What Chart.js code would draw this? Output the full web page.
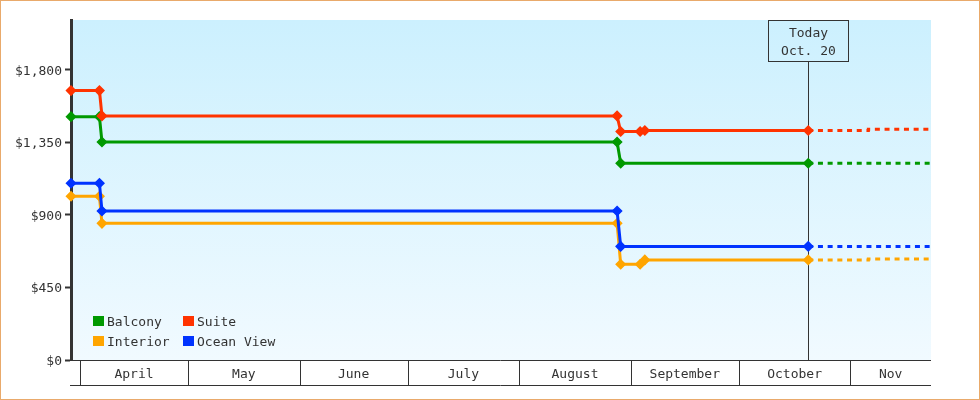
<!DOCTYPE html>
<html><head><meta charset="utf-8">
<script src="https://cdn.jsdelivr.net/npm/chart.js@4.4.0/dist/chart.umd.min.js"></script>
<style>html,body{margin:0;padding:0;background:#fff;overflow:hidden;} canvas{display:block;}</style>
</head><body>
<canvas id="c" width="980" height="400"></canvas>
<script>
// ---- data (x = days since April 1) ----
const seriesNames = ['Balcony', 'Suite', 'Interior', 'Ocean View'];
const seriesColors = ['#009900', '#ff3300', '#ffa500', '#0033ff'];
const balconyDays   = [-2.5, 5.4, 6.1, 149.2, 150.2, 202.3, 236.4];
const balconyPrices = [1510, 1510, 1353, 1353, 1221, 1221, 1221];
const suiteDays     = [-2.5, 5.4, 6.1, 149.2, 150.2, 155.6, 156.9, 202.3, 218.9, 219.0, 236.4];
const suitePrices   = [1672, 1672, 1515, 1515, 1418, 1418, 1424, 1424, 1424, 1432, 1432];
const interiorDays  = [-2.5, 5.4, 6.1, 149.2, 150.2, 155.6, 156.9, 202.3, 218.9, 219.0, 236.4];
const interiorPrices= [1016, 1016, 848, 848, 594, 594, 621, 621, 621, 627, 627];
const oceanDays     = [-2.5, 5.4, 6.1, 149.2, 150.2, 202.3, 236.4];
const oceanPrices   = [1097, 1097, 925, 925, 705, 705, 705];
const monthNames     = ['April', 'May', 'June', 'July', 'August', 'September', 'October', 'Nov'];
const monthStartDays = [0, 30, 61, 91, 122, 153, 183, 214];
const yTickValues = [0, 450, 900, 1350, 1800];
const todayDay = 202.3;
const todayLabel = ['Today', 'Oct. 20'];
const xMin = -2.5, xMax = 236.4, yMax = 2110;

const FONT = 'DejaVu Sans Mono';
const TXT = '#333333';
const DY = 1.5;

function pts(days, prices) { return days.map((d, i) => ({ x: d, y: prices[i] })); }
const seriesData = [pts(balconyDays, balconyPrices), pts(suiteDays, suitePrices),
                    pts(interiorDays, interiorPrices), pts(oceanDays, oceanPrices)];
const drawOrder = [3, 1, 2, 0];

const datasets = seriesNames.map((name, i) => ({
  label: name,
  data: seriesData[i],
  borderColor: seriesColors[i],
  backgroundColor: seriesColors[i],
  pointBackgroundColor: seriesColors[i],
  pointBorderColor: seriesColors[i],
  borderWidth: 3,
  pointStyle: 'rectRot',
  pointBorderWidth: 1.5,
  pointRadius: ctx => (ctx.raw && ctx.raw.x <= todayDay + 0.001) ? 4.5 : 0,
  pointHoverRadius: 4.5,
  tension: 0,
  clip: false,
  order: drawOrder[i],
  segment: {
    borderDash: ctx => ctx.p0.parsed.x >= todayDay - 0.001 ? [5, 4.7] : undefined
  }
}));

const decor = {
  id: 'decor',
  beforeDraw(chart) {
    const { ctx, chartArea: a } = chart;
    ctx.save();
    ctx.fillStyle = '#ffffff';
    ctx.fillRect(0, 0, chart.width, chart.height);
    const g = ctx.createLinearGradient(0, a.top, 0, a.bottom);
    g.addColorStop(0, '#ccf0fe');
    g.addColorStop(1, '#f1faff');
    ctx.fillStyle = g;
    ctx.fillRect(a.left, a.top, a.right - a.left, a.bottom - a.top);
    ctx.strokeStyle = '#e9aa6b';
    ctx.lineWidth = 1;
    ctx.strokeRect(0.5, 0.5, chart.width - 1, chart.height - 1);
    ctx.restore();
  },
  beforeDatasetsDraw(chart) {
    const { ctx, chartArea: a, scales: { x } } = chart;
    const tx = Math.round(x.getPixelForValue(todayDay)) + 0.5;
    ctx.save();
    ctx.strokeStyle = TXT;
    ctx.lineWidth = 1;
    const boxTop = a.top + 0.5, boxBottom = a.top + 41.5;
    ctx.beginPath();
    ctx.moveTo(tx, boxBottom);
    ctx.lineTo(tx, a.bottom);
    ctx.stroke();
    ctx.strokeRect(tx - 40, boxTop, 80, boxBottom - boxTop);
    ctx.fillStyle = TXT;
    ctx.font = '13px "' + FONT + '"';
    ctx.textAlign = 'center';
    ctx.textBaseline = 'middle';
    ctx.fillText(todayLabel[0], tx, a.top + 12 + DY);
    ctx.fillText(todayLabel[1], tx, a.top + 30 + DY);
    ctx.restore();
  },
  afterDraw(chart) {
    const { ctx, chartArea: a, scales: { x } } = chart;
    ctx.save();
    ctx.strokeStyle = TXT;
    ctx.lineWidth = 1;
    const y0 = a.bottom + 0.5, y1 = a.bottom + 25.5;
    ctx.beginPath();
    ctx.moveTo(a.left - 1, y0); ctx.lineTo(a.right, y0);
    ctx.moveTo(a.left - 1, y1); ctx.lineTo(a.right, y1);
    monthStartDays.forEach(d => {
      if (d > xMin && d < xMax) {
        const px = Math.round(x.getPixelForValue(d)) + 0.5;
        ctx.moveTo(px, y0); ctx.lineTo(px, y1);
      }
    });
    ctx.stroke();
    ctx.fillStyle = TXT;
    ctx.font = '13px "' + FONT + '"';
    ctx.textAlign = 'center';
    ctx.textBaseline = 'middle';
    monthNames.forEach((m, i) => {
      const s = Math.max(monthStartDays[i], xMin);
      const e = Math.min(i + 1 < monthStartDays.length ? monthStartDays[i + 1] : xMax, xMax);
      const cx = (x.getPixelForValue(s) + x.getPixelForValue(e)) / 2;
      ctx.fillText(m, cx, a.bottom + 13 + DY);
    });
    // legend inside plot, bottom-left, two columns
    ctx.textAlign = 'left';
    chart.data.datasets.forEach((ds, i) => {
      const col = i % 2, row = Math.floor(i / 2);
      const lx = a.left + 22 + col * 90;
      const ly = a.bottom - 44 + row * 20;
      ctx.fillStyle = ds.borderColor;
      ctx.fillRect(lx, ly, 11, 10);
      ctx.fillStyle = TXT;
      ctx.fillText(ds.label, lx + 14, ly + 5 + DY);
    });
    ctx.restore();
  }
};

new Chart(document.getElementById('c'), {
  type: 'line',
  data: { datasets },
  options: {
    responsive: false,
    devicePixelRatio: 1,
    animation: false,
    layout: { padding: { top: 20, right: 49, bottom: 40, left: 0 } },
    plugins: { legend: { display: false }, tooltip: { enabled: false } },
    scales: {
      x: { type: 'linear', min: xMin, max: xMax, display: false },
      y: {
        min: 0, max: yMax,
        afterBuildTicks: s => { s.ticks = yTickValues.map(v => ({ value: v })); },
        afterFit: s => { s.width = 71; },
        border: { color: TXT, width: 3 },
        grid: { drawOnChartArea: false, drawTicks: true, tickLength: 6, tickWidth: 2, tickColor: TXT },
        ticks: {
          padding: 3, color: TXT, labelOffset: DY,
          font: { family: FONT, size: 13 },
          callback: v => '$' + Number(v).toLocaleString('en-US')
        }
      }
    }
  },
  plugins: [decor]
});
</script>
</body></html>
